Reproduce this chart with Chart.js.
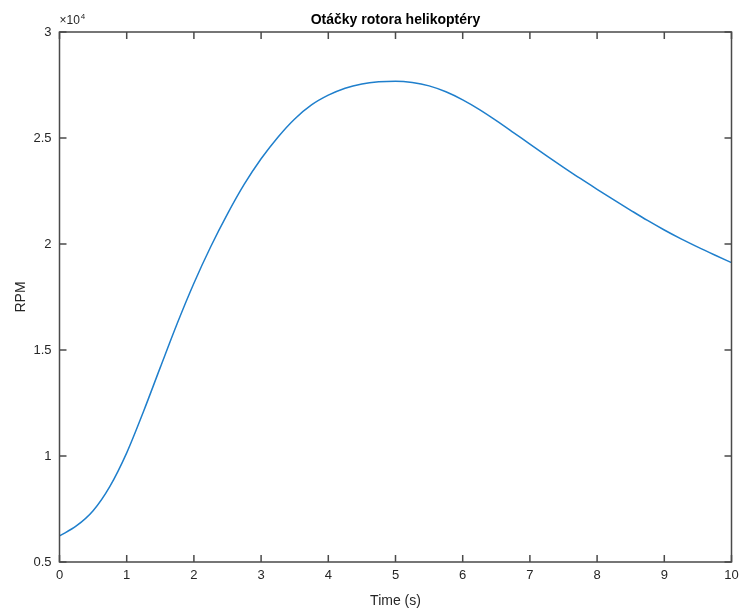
<!DOCTYPE html>
<html>
<head>
<meta charset="utf-8">
<script src="https://cdn.jsdelivr.net/npm/chart.js@4.4.1/dist/chart.umd.min.js"></script>
<style>
html,body{margin:0;padding:0;background:#fff;}
#wrap{width:742px;height:610px;position:relative;}
</style>
</head>
<body>
<div id="wrap"><canvas id="c" width="742" height="610"></canvas></div>
<script>
const chartTitle = "Otáčky rotora helikoptéry";
const xLabel = "Time (s)";
const yLabel = "RPM";
const timeS = [0,0.25,0.5,0.75,1,1.25,1.5,1.75,2,2.25,2.5,2.75,3,3.25,3.5,3.75,4,4.25,4.5,4.75,5,5.25,5.5,5.75,6,6.25,6.5,6.75,7,7.25,7.5,7.75,8,8.25,8.5,8.75,9,9.25,9.5,9.75,10];
const rpm = [6230,6700,7420,8570,10150,12100,14180,16240,18150,19870,21420,22820,24020,25040,25900,26560,27020,27350,27550,27650,27680,27620,27460,27180,26800,26340,25820,25270,24710,24160,23620,23090,22580,22080,21590,21110,20660,20240,19850,19480,19120];
const xTicks = [0,1,2,3,4,5,6,7,8,9,10];
const yTicks = [5000,10000,15000,20000,25000,30000];

const axisColor = '#4a4a4a';
const textColor = '#262626';
const fontFam = '"Liberation Sans", Arial, Helvetica, sans-serif';

const decor = {
  id: 'decor',
  afterDraw(chart) {
    const ctx = chart.ctx;
    const a = chart.chartArea;
    const xs = chart.scales.x, ys = chart.scales.y;
    ctx.save();
    ctx.strokeStyle = axisColor;
    ctx.lineWidth = 1.5;
    ctx.beginPath();
    ctx.rect(a.left, a.top, a.right - a.left, a.bottom - a.top);
    ctx.stroke();
    const tl = 7;
    ctx.beginPath();
    xTicks.forEach(v => {
      const px = xs.getPixelForValue(v);
      ctx.moveTo(px, a.bottom); ctx.lineTo(px, a.bottom - tl);
      ctx.moveTo(px, a.top); ctx.lineTo(px, a.top + tl);
    });
    yTicks.forEach(v => {
      const py = ys.getPixelForValue(v);
      ctx.moveTo(a.left, py); ctx.lineTo(a.left + tl, py);
      ctx.moveTo(a.right, py); ctx.lineTo(a.right - tl, py);
    });
    ctx.stroke();
    // title
    ctx.fillStyle = '#000';
    ctx.font = 'bold 14px ' + fontFam;
    ctx.textAlign = 'center';
    ctx.textBaseline = 'alphabetic';
    ctx.fillText(chartTitle, (a.left + a.right) / 2, a.top - 8);
    // exponent
    ctx.fillStyle = textColor;
    ctx.font = '12px ' + fontFam;
    ctx.textAlign = 'left';
    ctx.fillText('×10', a.left, a.top - 8);
    const w = ctx.measureText('×10').width;
    ctx.font = '8px ' + fontFam;
    ctx.fillText('4', a.left + w + 1, a.top - 13);
    ctx.restore();
  }
};

new Chart(document.getElementById('c'), {
  type: 'line',
  data: {
    labels: timeS,
    datasets: [{
      data: timeS.map((t, i) => ({x: t, y: rpm[i]})),
      borderColor: '#1f7fcc',
      borderWidth: 1.5,
      pointRadius: 0,
      fill: false,
      cubicInterpolationMode: 'monotone'
    }]
  },
  plugins: [decor],
  options: {
    responsive: false,
    animation: false,
    events: [],
    layout: {padding: {left: 12.5, right: 10.5, top: 32, bottom: 0}},
    plugins: {legend: {display: false}, title: {display: false}, tooltip: {enabled: false}},
    scales: {
      x: {
        type: 'linear', min: 0, max: 10,
        afterBuildTicks: s => { s.ticks = xTicks.map(v => ({value: v})); },
        afterFit: s => { s.height = 48; s.paddingLeft = 0; s.paddingRight = 0; },
        grid: {display: false, drawTicks: false},
        border: {display: false},
        ticks: {color: textColor, font: {family: fontFam, size: 13}, padding: 6, maxRotation: 0, autoSkip: false},
        title: {display: true, text: xLabel, color: textColor, font: {family: fontFam, size: 14}, padding: {top: 3, bottom: 0}}
      },
      y: {
        type: 'linear', min: 5000, max: 30000,
        afterBuildTicks: s => { s.ticks = yTicks.map(v => ({value: v})); },
        afterFit: s => { s.width = 47; s.paddingTop = 0; s.paddingBottom = 0; },
        grid: {display: false, drawTicks: false},
        border: {display: false},
        ticks: {color: textColor, font: {family: fontFam, size: 13}, padding: 8, callback: v => String(v / 10000)},
        title: {display: true, text: yLabel, color: textColor, font: {family: fontFam, size: 14}, padding: {top: 0, bottom: 6}}
      }
    }
  }
});
</script>
</body>
</html>
